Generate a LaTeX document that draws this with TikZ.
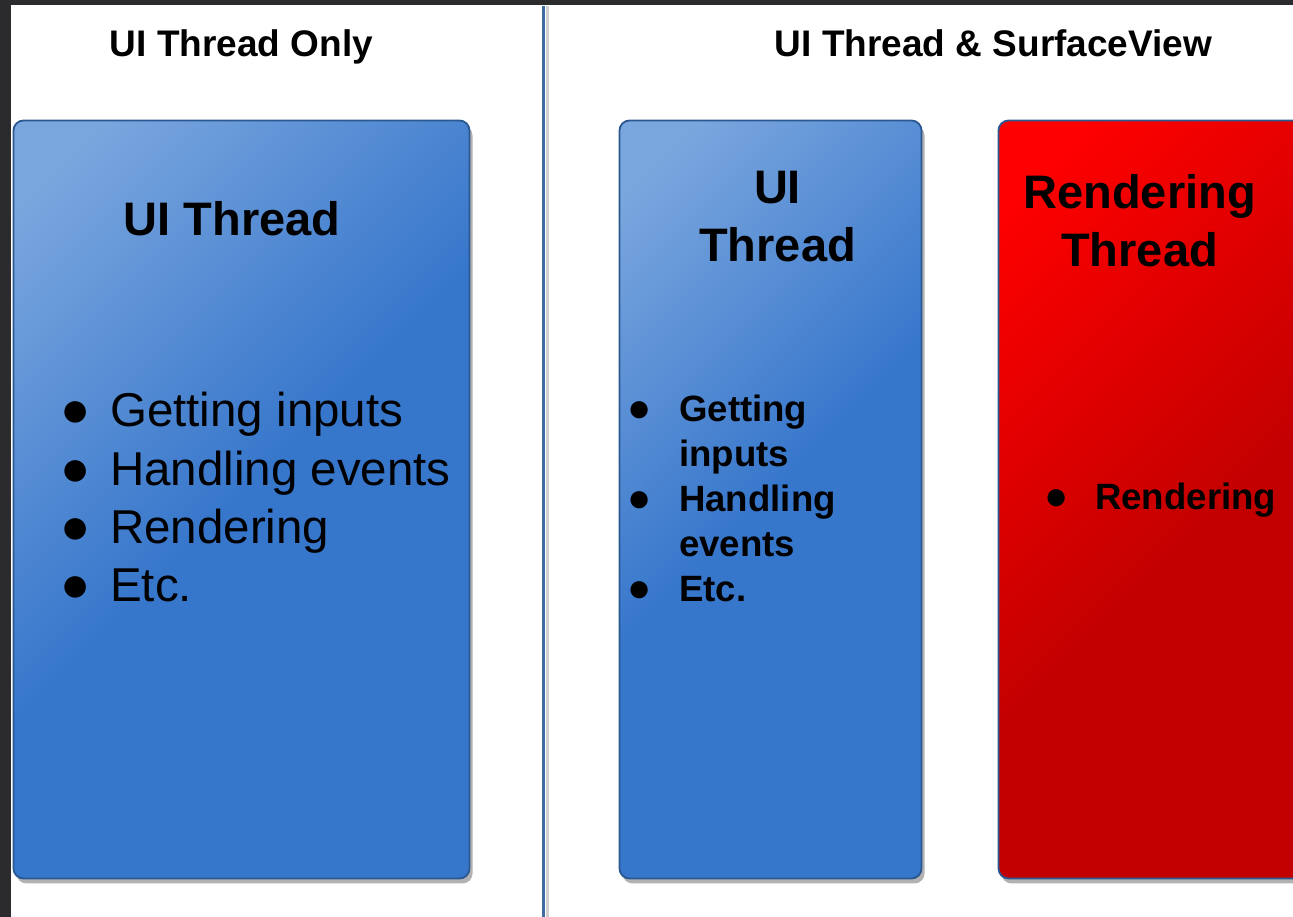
\documentclass[tikz,border=0pt]{standalone}
\usepackage{fontspec}
\setmainfont{Liberation Sans}
\usepackage{tikz}
\usetikzlibrary{positioning,shadows}

\definecolor{frameGray}{HTML}{2B2B2D}
\definecolor{uiLight}{HTML}{7AA6DE}
\definecolor{uiDark}{HTML}{3676CB}
\definecolor{renderLight}{HTML}{FF0000}
\definecolor{renderDark}{HTML}{C20000}
\definecolor{edgeBlue}{HTML}{2B5890}
\definecolor{dividerBlue}{HTML}{3E6BA3}
\definecolor{dividerShade}{HTML}{D0D0D0}

\pgfdeclarehorizontalshading{uifade}{100bp}{color(0bp)=(uiLight); color(20bp)=(uiLight); color(50bp)=(uiDark); color(100bp)=(uiDark)}
\pgfdeclarehorizontalshading{renderfade}{100bp}{color(0bp)=(renderLight); color(20bp)=(renderLight); color(55bp)=(renderDark); color(100bp)=(renderDark)}

% bullet: gap width, bullet size
\newcommand{\itemdot}[2]{\makebox[#1][l]{\fontsize{#2}{#2}\selectfont ●}}

\begin{document}
\begin{tikzpicture}[x=1pt, y=1pt,
    threadbox/.style={rectangle, draw=edgeBlue, line width=1.8pt, rounded corners=10pt,
        minimum height=758pt, inner sep=0pt, shade, shading angle=-45,
        drop shadow={shadow xshift=3pt, shadow yshift=-5pt, fill=black, opacity=0.3}},
    heading/.style={anchor=base, inner sep=0pt, font=\fontsize{37}{44}\selectfont\bfseries},
    boxhead/.style={anchor=base, inner sep=0pt, font=\fontsize{47}{57.5}\selectfont\bfseries},
    biglist/.style={anchor=base west, inner sep=0pt, font=\fontsize{47.5}{58.3}\selectfont},
    smalllist/.style={anchor=base west, inner sep=0pt, font=\fontsize{36.6}{45}\selectfont\bfseries},
    divider/.style={dividerBlue, line width=3pt}]
    \clip (0,0) rectangle (1293,917);
    \fill[white] (0,0) rectangle (1293,917);

    % Window frame
    \fill[frameGray] (0,0) rectangle (11,917);
    \fill[frameGray] (0,912) rectangle (1293,917);

    % Column titles
    \node[heading] (onlytitle) at (241.5,860) {UI Thread Only};
    \node[heading] (splittitle) at (993.5,860) {UI Thread \& SurfaceView};

    % Divider
    \coordinate (divtop) at (543,911);
    \coordinate (divbot) at (543,0);
    \draw[dividerShade, line width=3pt] ([xshift=4.5pt]divtop) -- ([xshift=4.5pt]divbot);
    \draw[divider] (divtop) -- (divbot);

    % Thread boxes
    \node[threadbox, shading=uifade, minimum width=456pt] (uionly) at (241.5,417.5) {};
    \node[threadbox, shading=uifade, minimum width=302pt] (uibox) at (770.5,417.5) {};
    \node[threadbox, shading=renderfade, minimum width=332pt] (renderbox) at (1164.5,417.5) {};

    % Box headings
    \node[boxhead] (uionlyhead) at ([xshift=-9.5pt, yshift=-115.5pt]uionly.north) {UI Thread};
    \node[boxhead] (uihead) at ([xshift=7pt, yshift=-84pt]uibox.north)
        {\begin{tabular}[t]{@{}c@{}}UI\\Thread\end{tabular}};
    \node[boxhead] (renderhead) at ([xshift=142pt, yshift=-89pt]renderbox.north west)
        {\begin{tabular}[t]{@{}c@{}}Rendering\\Thread\end{tabular}};

    % Bullet lists
    \node[biglist] (uionlylist) at (60,490) {\begin{tabular}[t]{@{}l@{}}
        \itemdot{50pt}{50}Getting inputs\\
        \itemdot{50pt}{50}Handling events\\
        \itemdot{50pt}{50}Rendering\\
        \itemdot{50pt}{50}Etc.
    \end{tabular}};
    \node[smalllist] (uilist) at (627,495) {\begin{tabular}[t]{@{}l@{}}
        \itemdot{52pt}{40}Getting\\
        \hspace*{52pt}inputs\\
        \itemdot{52pt}{40}Handling\\
        \hspace*{52pt}events\\
        \itemdot{52pt}{40}Etc.
    \end{tabular}};
    \node[smalllist] (renderlist) at (1044,407) {\itemdot{51pt}{40}Rendering};
\end{tikzpicture}
\end{document}
